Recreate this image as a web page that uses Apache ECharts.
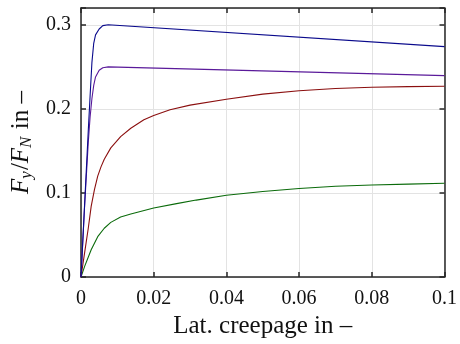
<!DOCTYPE html>
<html>
<head>
<meta charset="utf-8">
<script src="https://cdn.jsdelivr.net/npm/echarts@6/dist/echarts.min.js"></script>
<style>
  html, body { margin: 0; padding: 0; background: #fff; }
  #chart { width: 460px; height: 344px; }
</style>
</head>
<body>
<div id="chart"></div>
<script>
// values
const blueData = [[0, 0], [0.001, 0.087], [0.002, 0.174], [0.0025, 0.215], [0.003, 0.255], [0.0035, 0.278],
  [0.004, 0.288], [0.005, 0.295], [0.006, 0.299], [0.0075, 0.300], [0.1, 0.274]]
const purpleData = [[0, 0], [0.001, 0.085], [0.002, 0.16], [0.0025, 0.19], [0.003, 0.212], [0.0035, 0.228],
  [0.004, 0.238], [0.005, 0.246], [0.006, 0.249], [0.0075, 0.250], [0.1, 0.2395]]
const redData = [[0, 0], [0.001, 0.029], [0.002, 0.058], [0.0028, 0.084], [0.0037, 0.104], [0.0046, 0.12],
  [0.0055, 0.131], [0.0064, 0.14], [0.0082, 0.1536], [0.0109, 0.167], [0.0137, 0.177], [0.0173, 0.187],
  [0.02, 0.192], [0.0245, 0.199], [0.03, 0.2045], [0.04, 0.2115], [0.05, 0.2175], [0.06, 0.2215],
  [0.07, 0.2243], [0.08, 0.2257], [0.09, 0.2265], [0.1, 0.227]]
const greenData = [[0, 0], [0.001, 0.0126], [0.0028, 0.0325], [0.0046, 0.048], [0.0064, 0.058],
  [0.0082, 0.065], [0.0109, 0.0714], [0.0137, 0.075], [0.02, 0.082], [0.0263, 0.0873], [0.0317, 0.0915],
  [0.04, 0.0972], [0.05, 0.1018], [0.06, 0.1053], [0.07, 0.108], [0.08, 0.1095], [0.09, 0.1105], [0.1, 0.1115]]
const xTickLabels = ['0', '0.02', '0.04', '0.06', '0.08', '0.1']
const yTickLabels = ['0', '0.1', '0.2', '0.3']

const serif = 'Liberation Serif'
const axisColor = '#262626'

function xLabel(v) {
  const i = Math.round(v / 0.02)
  return Math.abs(v - i * 0.02) < 1e-6 && xTickLabels[i] ? xTickLabels[i] : ''
}
function yLabel(v) {
  const i = Math.round(v / 0.1)
  return Math.abs(v - i * 0.1) < 1e-6 && yTickLabels[i] ? yTickLabels[i] : ''
}

const chart = echarts.init(document.getElementById('chart'), null, { renderer: 'canvas' })

const baseAxis = {
  type: 'value',
  axisLine: { show: true, onZero: false, lineStyle: { color: axisColor, width: 1.5 } },
  axisTick: { show: true, inside: true, length: 5, lineStyle: { color: axisColor, width: 1.5 } },
  splitLine: { show: false }
}

function line(data, color) {
  return {
    type: 'line',
    data: data,
    showSymbol: false,
    smooth: false,
    lineStyle: { color: color, width: 1.1 },
    itemStyle: { color: color },
    animation: false
  }
}

chart.setOption({
  animation: false,
  grid: { left: 81, right: 12.5, top: 8, bottom: 66.5 },
  xAxis: [
    Object.assign({}, baseAxis, {
      position: 'bottom',
      min: 0, max: 0.1, interval: 0.02,
      axisLabel: { formatter: xLabel, fontFamily: serif, fontSize: 20, color: '#111', margin: 12 },
      splitLine: { show: true, lineStyle: { color: '#e3e3e3', width: 1 } },
      name: 'Lat. creepage in –',
      nameLocation: 'middle',
      nameGap: 37,
      nameTextStyle: { fontFamily: serif, fontSize: 25, color: '#111' }
    }),
    Object.assign({}, baseAxis, {
      position: 'top',
      min: 0, max: 0.1, interval: 0.02,
      axisLabel: { show: false }
    })
  ],
  yAxis: [
    Object.assign({}, baseAxis, {
      position: 'left',
      min: 0, max: 0.32, interval: 0.1,
      axisLabel: { formatter: yLabel, fontFamily: serif, fontSize: 20, color: '#111', margin: 10 },
      splitLine: { show: true, lineStyle: { color: '#e3e3e3', width: 1 } },
      name: '{i|F}{s|y}{n|/}{i|F}{s|N}{n| in –}',
      nameLocation: 'middle',
      nameGap: 45,
      nameRotate: 90,
      nameTextStyle: {
        fontFamily: serif, fontSize: 24, color: '#111',
        rich: {
          i: { fontFamily: serif, fontSize: 25, fontStyle: 'italic', color: '#111' },
          s: { fontFamily: serif, fontSize: 17, fontStyle: 'italic', color: '#111', padding: [10, 1, 0, 0] },
          n: { fontFamily: serif, fontSize: 25, color: '#111' }
        }
      }
    }),
    Object.assign({}, baseAxis, {
      position: 'right',
      min: 0, max: 0.32, interval: 0.1,
      axisLabel: { show: false }
    })
  ],
  series: [
    line(greenData, '#0b6b0b'),
    line(redData, '#8b0f0f'),
    line(purpleData, '#5a1a9a'),
    line(blueData, '#0a0a8c')
  ]
})
</script>
</body>
</html>
